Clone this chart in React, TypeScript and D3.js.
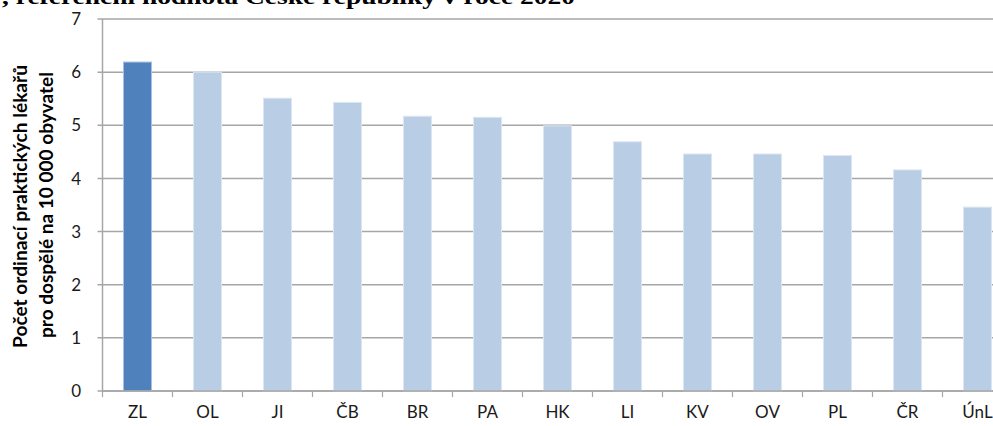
import React from "react";
import * as d3 from "d3";

const categories = ["ZL", "OL", "JI", "ČB", "BR", "PA", "HK", "LI", "KV", "OV", "PL", "ČR", "ÚnL"];
const values = [6.19, 6.0, 5.51, 5.43, 5.17, 5.15, 4.99, 4.69, 4.46, 4.46, 4.43, 4.16, 3.46];
const highlighted = ["ZL"];
const yTicks = [0, 1, 2, 3, 4, 5, 6, 7];
const titleText = ", referenční hodnota České republiky v roce 2020";
const yTitleLines = ["Počet ordinací praktických lékařů", "pro dospělé na 10 000 obyvatel"];

const W = 993;
const H = 426;
const x0 = 102.5;
const step = 70;
const yBottom = 391;
const yTop = 19;

export default function App() {
  const x = d3
    .scaleBand<string>()
    .domain(categories)
    .range([x0, x0 + step * categories.length])
    .paddingInner(0.6)
    .paddingOuter(0.3);
  const y = d3.scaleLinear().domain([0, 7]).range([yBottom, yTop]);
  const xEnd = x0 + step * categories.length;
  const boundaries = d3.range(categories.length + 1).map((i) => x0 + i * x.step());
  const font = "Lato, 'Open Sans', sans-serif";

  return (
    <svg
      width={W}
      height={H}
      style={{ position: "absolute", left: 0, top: 0, background: "#fff" }}
    >
      <text
        x={2}
        y={4}
        fontFamily="'Liberation Serif', 'DejaVu Serif', serif"
        fontWeight="bold"
        fontSize={20}
        textLength={573}
        lengthAdjust="spacingAndGlyphs"
        fill="#000"
      >
        {titleText}
      </text>
      {yTicks.map((t) => (
        <g key={t}>
          <line x1={x0 - 5} x2={xEnd} y1={y(t)} y2={y(t)} stroke="#a6a6a6" strokeWidth={1.5} />
          <text
            x={81}
            y={y(t)}
            dy="0.36em"
            textAnchor="end"
            fontFamily={font}
            fontSize={17}
            fill="#1a1a1a"
          >
            {t}
          </text>
        </g>
      ))}
      <line x1={x0} x2={x0} y1={yTop} y2={yBottom} stroke="#a6a6a6" strokeWidth={1.5} />
      {boundaries.map((bx, i) => (
        <line key={i} x1={bx} x2={bx} y1={yBottom} y2={yBottom + 6} stroke="#a6a6a6" strokeWidth={1.2} />
      ))}
      {categories.map((c, i) => (
        <rect
          key={c}
          x={x(c)}
          y={y(values[i])}
          width={x.bandwidth()}
          height={y(0) - y(values[i])}
          fill={highlighted.includes(c) ? "#4f81bd" : "#b9cde5"}
          stroke={highlighted.includes(c) ? "#a7c0de" : "#dce6f2"}
          strokeWidth={1}
        />
      ))}
      <line x1={x0} x2={xEnd} y1={yBottom} y2={yBottom} stroke="#a6a6a6" strokeWidth={1.5} />
      {categories.map((c) => (
        <text
          key={c}
          x={(x(c) as number) + x.bandwidth() / 2}
          y={418}
          textAnchor="middle"
          fontFamily={font}
          fontSize={17}
          fill="#1a1a1a"
        >
          {c}
        </text>
      ))}
      <g transform="translate(27,206.5) rotate(-90)">
        <text
          x={0}
          y={0}
          textAnchor="middle"
          fontFamily={font}
          fontWeight="bold"
          fontSize={18.5}
          textLength={283}
          lengthAdjust="spacingAndGlyphs"
          fill="#000"
        >
          {yTitleLines[0]}
        </text>
      </g>
      <g transform="translate(53,205) rotate(-90)">
        <text
          x={0}
          y={0}
          textAnchor="middle"
          fontFamily={font}
          fontWeight="bold"
          fontSize={18.5}
          textLength={266}
          lengthAdjust="spacingAndGlyphs"
          fill="#000"
        >
          {yTitleLines[1]}
        </text>
      </g>
    </svg>
  );
}
